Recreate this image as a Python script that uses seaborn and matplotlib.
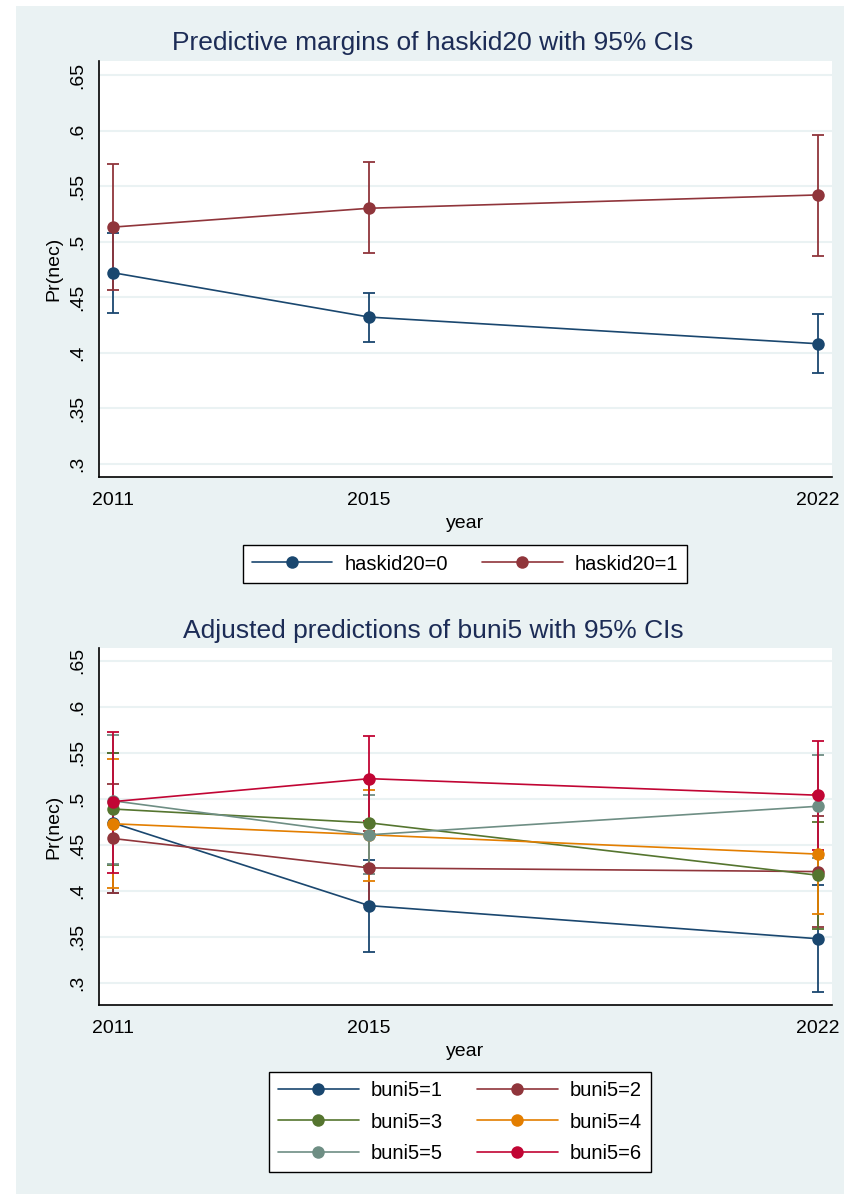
import numpy as np
import pandas as pd
import matplotlib
matplotlib.use("Agg")
import matplotlib.pyplot as plt
import seaborn as sns
from matplotlib.patches import Rectangle

sns.set_style("white")
plt.rcParams['font.family'] = ['Liberation Sans', 'DejaVu Sans']
plt.rcParams['text.color'] = 'black'
plt.rcParams['axes.labelcolor'] = 'black'
plt.rcParams['xtick.color'] = 'black'
plt.rcParams['ytick.color'] = 'black'

years = [2011, 2015, 2022]

# top panel: predictive margins of haskid20
haskid_labels = ["haskid20=0", "haskid20=1"]
haskid0 = [0.472, 0.432, 0.408]
haskid0_lo = [0.436, 0.410, 0.382]
haskid0_hi = [0.508, 0.454, 0.435]
haskid1 = [0.513, 0.530, 0.542]
haskid1_lo = [0.456, 0.490, 0.487]
haskid1_hi = [0.570, 0.572, 0.596]

# bottom panel: adjusted predictions of buni5
buni_labels = ["buni5=1", "buni5=2", "buni5=3", "buni5=4", "buni5=5", "buni5=6"]
b1 = [0.474, 0.384, 0.348]
b1_lo = [0.398, 0.334, 0.290]
b1_hi = [0.550, 0.434, 0.406]
b2 = [0.457, 0.425, 0.421]
b2_lo = [0.398, 0.385, 0.361]
b2_hi = [0.516, 0.465, 0.481]
b3 = [0.489, 0.474, 0.417]
b3_lo = [0.428, 0.427, 0.359]
b3_hi = [0.550, 0.521, 0.475]
b4 = [0.473, 0.461, 0.440]
b4_lo = [0.403, 0.411, 0.375]
b4_hi = [0.543, 0.510, 0.505]
b5 = [0.498, 0.461, 0.492]
b5_lo = [0.429, 0.418, 0.436]
b5_hi = [0.569, 0.504, 0.548]
b6 = [0.497, 0.522, 0.504]
b6_lo = [0.419, 0.476, 0.445]
b6_hi = [0.573, 0.568, 0.563]

# stata s2color
stata = ["#1A476F", "#90353B", "#55752F", "#E37E00", "#6E8E84", "#C10534"]
bg = "#EAF2F3"
title_col = "#1C2C56"


def frame(labels, vals, los, his):
    rows = []
    for lab, v, lo, hi in zip(labels, vals, los, his):
        for yr, a, b, c in zip(years, v, lo, hi):
            rows.append(dict(grp=lab, year=yr, pr=a, lo=b, hi=c))
    return pd.DataFrame(rows)


def panel(ax, df, labels, title, title_y, ylim, leg_center, nrow):
    pal = dict(zip(labels, stata[:len(labels)]))
    for lab in labels:
        d = df[df.grp == lab]
        ax.errorbar(d.year, d.pr, yerr=[d.pr - d.lo, d.hi - d.pr], fmt='none',
                    ecolor=pal[lab], elinewidth=1.3, capsize=4, capthick=1.3, zorder=1.5)
    sns.lineplot(data=df, x='year', y='pr', hue='grp', hue_order=labels, palette=pal,
                 marker='o', markersize=9, markeredgewidth=0, linewidth=1.2,
                 errorbar=None, legend=False, ax=ax, zorder=2)
    handles = ax.lines[-len(labels):]

    ax.set_xlim(2010.786, 2022.218)
    ax.set_ylim(*ylim)
    ax.set_xticks(years)
    ax.set_xticklabels([str(y) for y in years])
    yt = [0.3, 0.35, 0.4, 0.45, 0.5, 0.55, 0.6, 0.65]
    ax.set_yticks(yt)
    ax.set_yticklabels([('%g' % t).lstrip('0') for t in yt], rotation=90, va='center')
    ax.tick_params(axis='both', labelsize=14, length=6, width=1, color='black', direction='out')
    ax.tick_params(axis='x', pad=5)
    ax.tick_params(axis='y', pad=3)
    ax.grid(axis='y', color=bg, linewidth=1.5)
    ax.set_axisbelow(True)
    for s in ['top', 'right']:
        ax.spines[s].set_visible(False)
    for s in ['left', 'bottom']:
        ax.spines[s].set_color('black')
        ax.spines[s].set_linewidth(1.2)
    ax.set_xlabel('year', fontsize=14, labelpad=4)
    ax.set_ylabel('Pr(nec)', fontsize=14, labelpad=5)
    fig.text(433 / 844, title_y, title, fontsize=19, color=title_col, ha='center', va='center')

    # stata fills legend row by row, matplotlib column by column
    ncol = 2
    order = [r * ncol + c for c in range(ncol) for r in range(nrow)]
    fig.legend([handles[i] for i in order], [labels[i] for i in order], loc='center',
               bbox_to_anchor=leg_center, ncol=ncol,
               fontsize=14.5, frameon=True, fancybox=False, edgecolor='black',
               handlelength=4.0, handletextpad=0.6, columnspacing=1.7,
               labelspacing=0.6, borderpad=0.45, framealpha=1)


fig = plt.figure(figsize=(8.44, 11.94), dpi=100)
fig.patches.append(Rectangle((16 / 844, 0), 1, 1 - 6 / 1194, transform=fig.transFigure,
                             facecolor=bg, edgecolor='none', zorder=-1))

ax1 = fig.add_axes([99 / 844, 1 - 477 / 1194, 733 / 844, 416 / 1194])
ax2 = fig.add_axes([99 / 844, 1 - 1005 / 1194, 733 / 844, 357 / 1194])
ax1.set_facecolor('white')
ax2.set_facecolor('white')

df1 = frame(haskid_labels, [haskid0, haskid1], [haskid0_lo, haskid1_lo], [haskid0_hi, haskid1_hi])
df2 = frame(buni_labels, [b1, b2, b3, b4, b5, b6], [b1_lo, b2_lo, b3_lo, b4_lo, b5_lo, b6_lo],
            [b1_hi, b2_hi, b3_hi, b4_hi, b5_hi, b6_hi])

panel(ax1, df1, haskid_labels, 'Predictive margins of haskid20 with 95% CIs', 1 - 43 / 1194,
      (0.288, 0.6626), (465 / 844, 1 - 564 / 1194), 1)
panel(ax2, df2, buni_labels, 'Adjusted predictions of buni5 with 95% CIs', 1 - 631 / 1194,
      (0.276, 0.664), (460 / 844, 1 - 1122 / 1194), 3)

fig.savefig('out.png', dpi=100)
